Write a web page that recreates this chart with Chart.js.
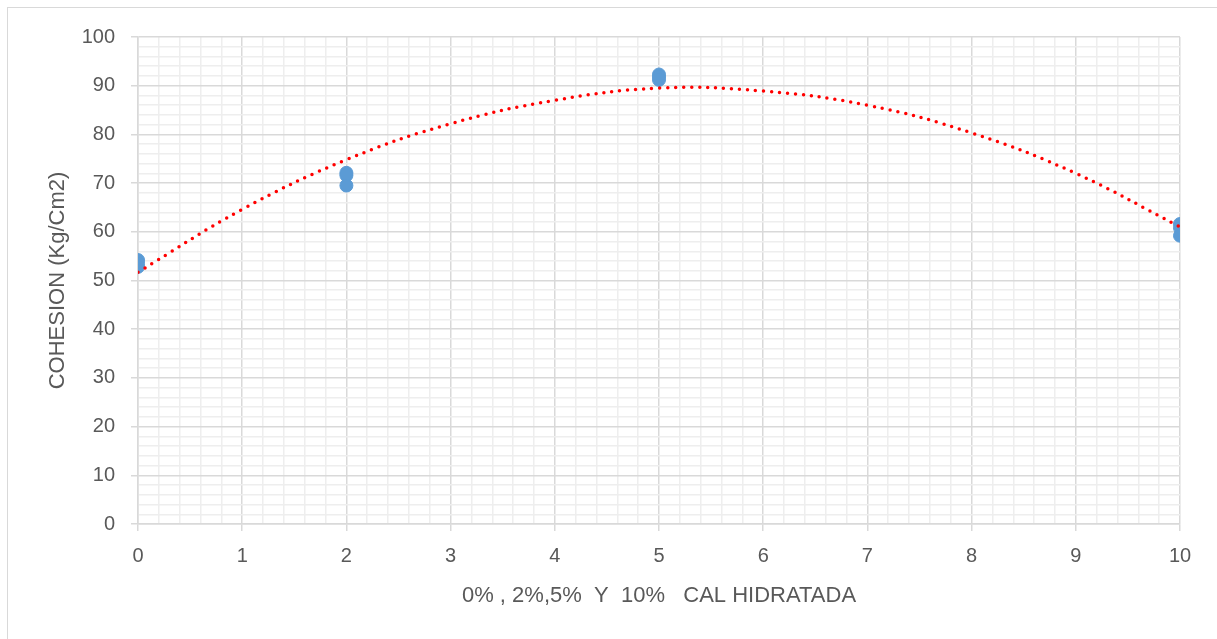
<!DOCTYPE html>
<html>
<head>
<meta charset="utf-8">
<script src="https://cdn.jsdelivr.net/npm/chart.js@4.4.1/dist/chart.umd.min.js"></script>
<style>
  html, body { margin: 0; padding: 0; background: #fff; }
  #wrap { position: relative; width: 1217px; height: 639px; }
  #frame { position: absolute; left: 7px; top: 7px; right: 0; bottom: 0;
           border-top: 1px solid #d9d9d9; border-left: 1px solid #d9d9d9; }
  canvas { position: absolute; left: 0; top: 0; }
</style>
</head>
<body>
<div id="wrap">
  <div id="frame"></div>
  <canvas id="chart" width="1217" height="639"></canvas>
</div>
<script>
// measured samples (% cal hidratada vs cohesion)
const cal0 = [54.2, 53.5, 52.8];
const cal2 = [72.1, 71.6, 69.5];
const cal5 = [92.3, 91.8, 91.2];
const cal10 = [61.6, 60.8, 59.2];
const calPct = [0, 2, 5, 10];

// polynomial trendline at x = 0..10
const trendX = [0, 1, 2, 3, 4, 5, 6, 7, 8, 9, 10];
const trendY = [51.7, 64.6, 74.8, 82.2, 87.0, 89.5, 88.9, 86.0, 80.3, 72.0, 61.0];

const xTitle = '0% , 2%,5%  Y  10%   CAL HIDRATADA';
const yTitle = 'COHESION (Kg/Cm2)';

const points = [];
[cal0, cal2, cal5, cal10].forEach((vals, i) => {
    vals.forEach(v => points.push({ x: calPct[i], y: v }));
});
const trend = trendX.map((x, i) => ({ x: x, y: trendY[i] }));

const FONT = 'Liberation Sans';
const MAJOR = '#d9d9d9';
const MINOR = '#eeeeee';

function isMajor(v, step) {
    const r = v / step;
    return Math.abs(r - Math.round(r)) < 1e-6;
}

function axisGrid(step) {
    return {
        color: ctx => isMajor(ctx.tick.value, step) ? MAJOR : MINOR,
        lineWidth: 1.5,
        tickColor: ctx => isMajor(ctx.tick.value, step) ? MAJOR : 'rgba(0,0,0,0)',
        tickLength: 7,
        drawTicks: true
    };
}

new Chart(document.getElementById('chart'), {
    type: 'scatter',
    data: {
        datasets: [
            {
                type: 'line',
                data: trend,
                borderColor: '#ff0000',
                borderWidth: 3.5,
                borderDash: [0, 8],
                borderCapStyle: 'round',
                pointRadius: 0,
                tension: 0.4,
                fill: false
            },
            {
                data: points,
                backgroundColor: '#5b9bd5',
                borderColor: '#5b9bd5',
                pointRadius: 6.5,
                pointHoverRadius: 6.5
            }
        ]
    },
    options: {
        responsive: false,
        animation: false,
        layout: { padding: { left: 0, top: 37, right: 37, bottom: 0 } },
        plugins: {
            legend: { display: false },
            tooltip: { enabled: false }
        },
        scales: {
            x: {
                type: 'linear',
                min: 0,
                max: 10,
                afterFit: s => { s.height = 115; },
                ticks: {
                    stepSize: 0.2,
                    autoSkip: false,
                    maxRotation: 0,
                    padding: 13,
                    color: '#595959',
                    font: { family: FONT, size: 20 },
                    callback: v => isMajor(v, 1) ? String(Math.round(v)) : ''
                },
                grid: axisGrid(1),
                border: { color: MAJOR, width: 1.5 },
                title: {
                    display: true,
                    text: xTitle,
                    color: '#595959',
                    font: { family: FONT, size: 22 },
                    padding: { top: 0, bottom: 30 }
                }
            },
            y: {
                min: 0,
                max: 100,
                afterFit: s => { s.width = 138; },
                ticks: {
                    stepSize: 2,
                    autoSkip: false,
                    padding: 16,
                    color: '#595959',
                    font: { family: FONT, size: 20 },
                    callback: v => isMajor(v, 10) ? String(Math.round(v)) : ''
                },
                grid: axisGrid(10),
                border: { color: MAJOR, width: 1.5 },
                title: {
                    display: true,
                    text: yTitle,
                    color: '#595959',
                    font: { family: FONT, size: 22 },
                    padding: { top: 45, bottom: 0 }
                }
            }
        }
    }
});
</script>
</body>
</html>
